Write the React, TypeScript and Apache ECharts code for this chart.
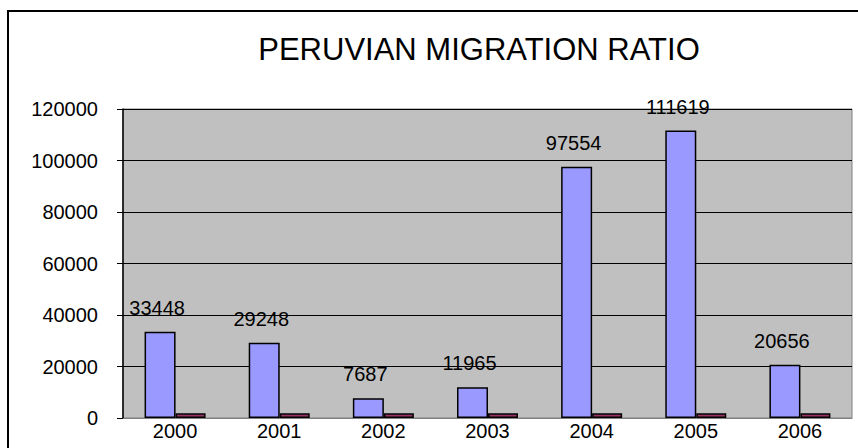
import React, { useEffect, useRef } from "react";
import * as echarts from "echarts";

const years = ["2000", "2001", "2002", "2003", "2004", "2005", "2006"];
const migrants = [33448, 29248, 7687, 11965, 97554, 111619, 20656];
const secondSeries = [1800, 1800, 1800, 1800, 1800, 1800, 1800];
const titleText = "PERUVIAN MIGRATION RATIO";

export default function App() {
  const ref = useRef<HTMLDivElement>(null);
  useEffect(() => {
    if (!ref.current) return;
    const chart = echarts.init(ref.current, null, { renderer: "svg" });
    const font = "'Liberation Sans', Arial, sans-serif";
    chart.setOption({
      animation: false,
      backgroundColor: "#ffffff",
      title: {
        text: titleText,
        left: 474,
        textAlign: "center",
        top: 29,
        textStyle: { fontFamily: font, fontSize: 31, fontWeight: "normal", color: "#000" },
      },
      graphic: [
        {
          type: "rect",
          shape: { x: 8, y: 11, width: 900, height: 500 },
          style: { fill: "none", stroke: "#000", lineWidth: 2 },
          z: 100,
        },
      ],
      grid: {
        left: 123,
        right: 6,
        top: 109,
        bottom: 30,
        show: true,
        backgroundColor: "#C0C0C0",
        borderColor: "#808080",
        borderWidth: 1,
      },
      xAxis: {
        type: "category",
        data: years,
        axisLine: { show: true, lineStyle: { color: "#808080", width: 1 } },
        axisTick: { show: false },
        axisLabel: { margin: 3, fontFamily: font, fontSize: 20, color: "#000" },
      },
      yAxis: {
        type: "value",
        min: 0,
        max: 120000,
        interval: 20000,
        axisLine: { show: true, lineStyle: { color: "#000", width: 1.5 } },
        axisTick: { show: true, length: 6, lineStyle: { color: "#000" } },
        axisLabel: {
          margin: 25,
          fontFamily: font,
          fontSize: 20,
          color: "#000",
          formatter: (v: number) => String(v),
        },
        splitLine: { show: true, lineStyle: { color: "#000", width: 1 } },
      },
      series: [
        {
          type: "bar",
          data: migrants,
          barWidth: 31,
          barGap: "0%",
          itemStyle: { color: "#9999FF", borderColor: "#000", borderWidth: 1.5 },
          label: {
            show: true,
            position: "top",
            distance: 14,
            offset: [-3, 0],
            fontFamily: font,
            fontSize: 20,
            color: "#000",
          },
        },
        {
          type: "bar",
          data: secondSeries,
          barWidth: 30,
          itemStyle: { color: "#993366", borderColor: "#000", borderWidth: 1.5 },
        },
      ],
    });
    return () => chart.dispose();
  }, []);
  return (
    <div
      ref={ref}
      style={{ position: "fixed", left: 0, top: 0, width: 858, height: 448 }}
    />
  );
}
